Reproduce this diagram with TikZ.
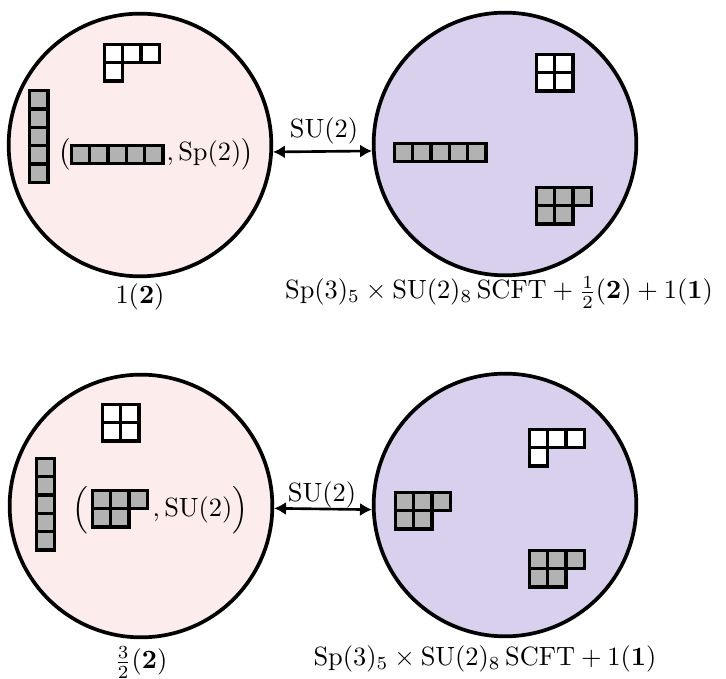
\documentclass[tikz,border=0pt]{standalone}
\usepackage{amsmath}
\usetikzlibrary{arrows.meta}
\definecolor{pinkfill}{RGB}{253,236,236}
\definecolor{lavfill}{RGB}{217,208,238}
\definecolor{boxgrey}{RGB}{178,178,178}
\tikzset{
  blob/.style={circle, draw, line width=1.4pt, inner sep=0pt, minimum size=99.5pt},
  ybox/.style={draw, line width=1.25pt},
  link/.style={line width=1pt, {Latex[length=4.5pt,width=5pt]}-{Latex[length=4.5pt,width=5pt]}},
  txt/.style={inner sep=0pt, anchor=base}
}
\newcommand\ydg[4]{%
  \foreach \len [count=\r from 0] in {#3} {%
    \foreach \c in {1,...,\len} {%
      \draw[ybox, fill=#4] ({#1+1.5+(\c-1)*18.3}, {#2+1.5+\r*18.3}) rectangle ++(18.3,18.3);
    }%
  }%
}
\begin{document}
\begin{tikzpicture}[x=0.3788pt, y=-0.3788pt]
\useasboundingbox (0,0) rectangle (726,679);
% circles
\node[blob, fill=pinkfill] (TL) at (140,145) {};
\node[blob, fill=lavfill]  (TR) at (505,144) {};
\node[blob, fill=pinkfill] (BL) at (141,506) {};
\node[blob, fill=lavfill]  (BR) at (505,505) {};
% arrows
\draw[link] (TL.-3) -- (TR.183.5);
\draw[link] (BL.-1.3) -- (BR.182);
\node[txt] (su1) at (324,138) {$\mathrm{SU}(2)$};
\node[txt] (su2) at (322,502) {$\mathrm{SU}(2)$};
% top-left content
\ydg{103}{43}{3,1}{white}
\ydg{28.3}{89.3}{1,1,1,1,1}{boxgrey}
\node[inner sep=0pt, anchor=base east] (lp1) at (71,161) {$\bigl($};
\ydg{70}{144}{5}{boxgrey}
\node[inner sep=0pt, anchor=base west] (rp1) at (166,161) {$,\mathrm{Sp}(2)\bigr)$};
% top-right content
\ydg{535}{53}{2,2}{white}
\ydg{393}{142}{5}{boxgrey}
\ydg{535}{186}{3,2}{boxgrey}
% bottom-left content
\ydg{101}{403}{2,2}{white}
\ydg{35}{457}{1,1,1,1,1}{boxgrey}
\node[inner sep=0pt, anchor=base east] (lp2) at (89,517) {$\Bigl($};
\ydg{91}{489}{3,2}{boxgrey}
\node[inner sep=0pt, anchor=base west] (rp2) at (152,517) {$,\mathrm{SU}(2)\Bigr)$};
% bottom-right content
\ydg{528}{428}{3,1}{white}
\ydg{394}{491}{3,2}{boxgrey}
\ydg{528}{549}{3,2}{boxgrey}
% labels
\node[txt] (l1) at (140,304) {$1(\mathbf{2})$};
\node[txt] (l2) at (499,299) {$\mathrm{Sp}(3)_5\times\mathrm{SU}(2)_8\,\mathrm{SCFT}+\tfrac{1}{2}(\mathbf{2})+1(\mathbf{1})$};
\node[txt] (l3) at (141,669) {$\tfrac{3}{2}(\mathbf{2})$};
\node[txt] (l4) at (485,666) {$\mathrm{Sp}(3)_5\times\mathrm{SU}(2)_8\,\mathrm{SCFT}+1(\mathbf{1})$};
\end{tikzpicture}
\end{document}
